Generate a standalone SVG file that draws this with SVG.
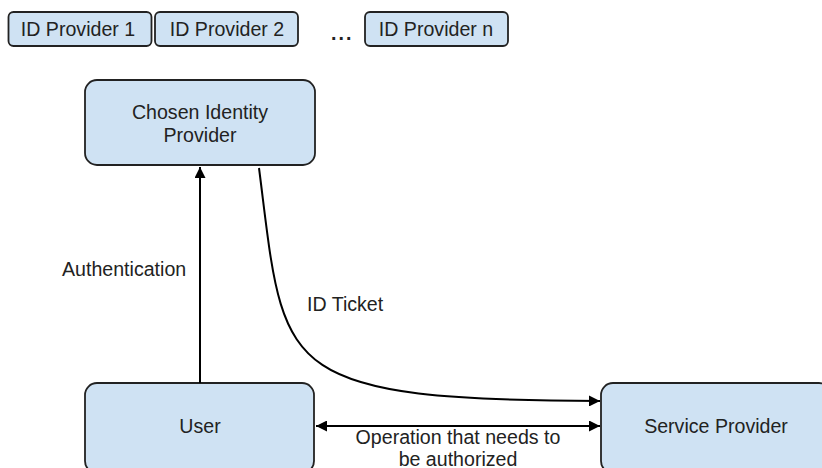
<svg xmlns="http://www.w3.org/2000/svg" width="822" height="468" viewBox="0 0 822 468">
<style>
.box{fill:#cfe2f3;stroke:#222;stroke-width:1.8}
.t{font-family:"Liberation Sans",Arial,sans-serif;font-size:19.6px;fill:#222;text-anchor:middle}
.l{font-family:"Liberation Sans",Arial,sans-serif;font-size:19.6px;fill:#222}
.c{fill:none;stroke:#000;stroke-width:2}
</style>
<defs>
<marker id="ah" viewBox="0 0 10 10" refX="10" refY="5" markerWidth="5.5" markerHeight="5.5" orient="auto-start-reverse" markerUnits="strokeWidth">
<path d="M0,0 L10,5 L0,10 z" fill="#000"/>
</marker>
</defs>
<rect width="822" height="468" fill="#fff"/>
<g id="idp1"><rect class="box" x="8.5" y="12" width="143" height="34" rx="5"/><text class="t" x="78" y="36">ID Provider 1</text></g>
<g id="idp2"><rect class="box" x="155" y="12" width="143" height="34" rx="5"/><text class="t" x="227" y="36">ID Provider 2</text></g>
<text id="dots" class="l" x="331" y="40" style="font-weight:bold;letter-spacing:2px">...</text>
<g id="idpn"><rect class="box" x="365" y="12" width="143" height="34" rx="5"/><text class="t" x="436" y="36">ID Provider n</text></g>
<g id="chosen"><rect class="box" x="85" y="80" width="230" height="85" rx="12"/><text class="t" x="200" y="119">Chosen Identity</text><text class="t" x="200" y="142">Provider</text></g>
<g id="user"><rect class="box" x="85" y="383" width="229" height="90" rx="12"/><text class="t" x="200" y="433">User</text></g>
<g id="sp"><rect class="box" x="601" y="383" width="230" height="90" rx="12"/><text class="t" x="716" y="433">Service Provider</text></g>
<g id="connectors">
<path class="c" d="M200,383 L200,167" marker-end="url(#ah)"/>
<path class="c" d="M259,168 C285,370 270,400 600,401" marker-end="url(#ah)"/>
<path class="c" d="M316,426 L600,426" marker-start="url(#ah)" marker-end="url(#ah)"/>
</g>
<text class="l" x="62" y="276">Authentication</text>
<text class="l" x="307" y="311">ID Ticket</text>
<text class="t" x="458" y="444">Operation that needs to</text>
<text class="t" x="458" y="465.5">be authorized</text>
</svg>
